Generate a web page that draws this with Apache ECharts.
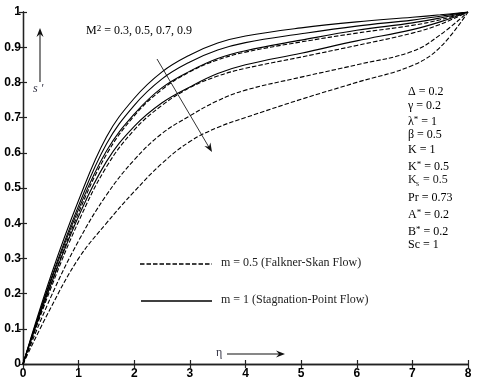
<!DOCTYPE html>
<html>
<head>
<meta charset="utf-8">
<script src="https://cdn.jsdelivr.net/npm/echarts@6/dist/echarts.min.js"></script>
<style>
  html, body { margin: 0; padding: 0; background: #fff; }
  #chart { width: 480px; height: 385px; }
</style>
</head>
<body>
<div id="chart"></div>
<script>
// eta grid shared by all curves
const eta = [0, 0.5, 1, 1.5, 2, 2.5, 3, 3.5, 4, 5, 6, 7, 7.5, 8]

// m = 1 (stagnation-point), M^2 = 0.3, 0.5, 0.7, 0.9
const solid03 = [0, 0.25, 0.465, 0.645, 0.755, 0.83, 0.878, 0.912, 0.932, 0.955, 0.972, 0.985, 0.992, 1]
const solid05 = [0, 0.24, 0.45, 0.625, 0.735, 0.81, 0.858, 0.892, 0.913, 0.938, 0.96, 0.977, 0.988, 1]
const solid07 = [0, 0.235, 0.44, 0.605, 0.71, 0.785, 0.832, 0.868, 0.89, 0.92, 0.948, 0.969, 0.983, 1]
const solid09 = [0, 0.225, 0.42, 0.575, 0.675, 0.742, 0.787, 0.825, 0.85, 0.883, 0.918, 0.95, 0.972, 1]

// m = 0.5 (Falkner-Skan), M^2 = 0.3, 0.5, 0.7, 0.9
const dash03 = [0, 0.225, 0.43, 0.595, 0.705, 0.78, 0.83, 0.864, 0.886, 0.915, 0.94, 0.962, 0.978, 1]
const dash05 = [0, 0.215, 0.405, 0.56, 0.665, 0.735, 0.785, 0.818, 0.84, 0.872, 0.905, 0.94, 0.965, 1]
const dash07 = [0, 0.19, 0.35, 0.48, 0.58, 0.655, 0.705, 0.748, 0.778, 0.815, 0.85, 0.888, 0.935, 1]
const dash09 = [0, 0.16, 0.30, 0.40, 0.49, 0.57, 0.632, 0.672, 0.70, 0.752, 0.80, 0.848, 0.90, 1]

const xTicks = ['0', '1', '2', '3', '4', '5', '6', '7', '8']
const yTicks = ['0', '0.1', '0.2', '0.3', '0.4', '0.5', '0.6', '0.7', '0.8', '0.9', '1']

// parameter list ({sup|..} = superscript, "K_s" drawn separately)
const params = [
  '{n|\u0394 = 0.2}',
  '{n|\u03b3 = 0.2}',
  '{n|\u03bb}{sup|*}{n| = 1}',
  '{n|\u03b2 = 0.5}',
  '{n|K = 1}',
  '{n|K}{sup|*}{n| = 0.5}',
  null,
  '{n|Pr = 0.73}',
  '{n|A}{sup|*}{n| = 0.2}',
  '{n|B}{sup|*}{n| = 0.2}',
  '{n|Sc = 1}'
]
const paramY = [93, 107, 122, 136, 151, 167, 181, 199, 215, 232, 246]

const DASH = [4.5, 2]
const serif = 'Liberation Serif'
const rich = {
  n: { fontFamily: serif, fontSize: 12, color: '#222' },
  sup: { fontFamily: serif, fontSize: 9, color: '#222', verticalAlign: 'top', padding: [0, 0, 5, 0] }
}

function pairs(ys) {
  return eta.map((x, i) => [x, ys[i]])
}

function curve(ys, dashed) {
  return {
    type: 'line',
    data: pairs(ys),
    symbol: 'none',
    smooth: 0.4,
    silent: true,
    lineStyle: { color: '#000', width: 1.1, type: dashed ? DASH : 'solid' }
  }
}

function arrowHead(tx, ty, dx, dy) {
  const len = Math.hypot(dx, dy)
  const ux = dx / len, uy = dy / len
  const nx = -uy, ny = ux
  return {
    type: 'polygon',
    silent: true,
    shape: {
      points: [
        [tx, ty],
        [tx - 9 * ux + 3.5 * nx, ty - 9 * uy + 3.5 * ny],
        [tx - 6 * ux, ty - 6 * uy],
        [tx - 9 * ux - 3.5 * nx, ty - 9 * uy - 3.5 * ny]
      ]
    },
    style: { fill: '#111' }
  }
}

function plainText(x, y, str, size) {
  return {
    type: 'text', left: x, top: y, silent: true,
    style: { text: str, fontFamily: serif, fontSize: size || 12, fill: '#222' }
  }
}

const chart = echarts.init(document.getElementById('chart'))

const axisLine = { show: true, lineStyle: { color: '#222', width: 1.3 } }
const axisTick = { show: true, inside: true, length: 4, lineStyle: { color: '#222', width: 1.2 } }
const tickFont = { fontFamily: 'Liberation Sans', fontWeight: 'bold', fontSize: 12, color: '#000' }

const paramGraphics = []
params.forEach((t, i) => {
  if (t) {
    paramGraphics.push({ type: 'text', left: 408, top: paramY[i] - 7, silent: true, style: { text: t, rich } })
  }
})
// K_s = 0.5
paramGraphics.push(plainText(408, paramY[6] - 7, 'K'))
paramGraphics.push(plainText(416, paramY[6] - 1, 's', 8))
paramGraphics.push(plainText(420, paramY[6] - 7, ' = 0.5'))

const option = {
  animation: false,
  backgroundColor: '#fff',
  grid: { left: 23, right: 12, top: 12, bottom: 21 },
  xAxis: [
    {
      type: 'value', min: 0, max: 8, interval: 1,
      axisLine, axisTick, splitLine: { show: false },
      axisLabel: Object.assign({ margin: 4, formatter: v => xTicks[Math.round(v)] }, tickFont)
    },
    {
      type: 'value', position: 'top', min: 0, max: 8, interval: 1,
      axisLine, axisTick, splitLine: { show: false }, axisLabel: { show: false }
    }
  ],
  yAxis: [
    {
      type: 'value', min: 0, max: 1, interval: 0.1,
      axisLine, axisTick, splitLine: { show: false },
      axisLabel: Object.assign({ margin: 2, formatter: v => yTicks[Math.round(v * 10)] }, tickFont)
    },
    {
      type: 'value', position: 'right', min: 0, max: 1, interval: 0.1,
      axisLine, axisTick, splitLine: { show: false }, axisLabel: { show: false }
    }
  ],
  series: [
    curve(solid03, false), curve(solid05, false), curve(solid07, false), curve(solid09, false),
    curve(dash03, true), curve(dash05, true), curve(dash07, true), curve(dash09, true)
  ],
  graphic: [
    // M^2 label and arrow
    {
      type: 'text', left: 86, top: 24, silent: true,
      style: { text: '{n|M}{sup|2}{n| = 0.3, 0.5, 0.7, 0.9}', rich }
    },
    { type: 'line', silent: true, shape: { x1: 157, y1: 59, x2: 210, y2: 149 }, style: { stroke: '#333', lineWidth: 1 } },
    arrowHead(212, 152, 55, 93),
    // s' arrow
    { type: 'line', silent: true, shape: { x1: 40, y1: 82, x2: 40, y2: 34 }, style: { stroke: '#333', lineWidth: 1.2 } },
    arrowHead(40, 28, 0, -1),
    {
      type: 'text', left: 33, top: 83, silent: true,
      style: { text: 's \u2032', fontFamily: serif, fontStyle: 'italic', fontSize: 12, fill: '#334' }
    },
    // eta arrow
    {
      type: 'text', left: 216, top: 347, silent: true,
      style: { text: '\u03b7', fontFamily: serif, fontSize: 12, fill: '#334' }
    },
    { type: 'line', silent: true, shape: { x1: 227, y1: 354, x2: 280, y2: 354 }, style: { stroke: '#111', lineWidth: 1.2 } },
    arrowHead(285, 354, 1, 0),
    // legend
    { type: 'line', silent: true, shape: { x1: 140, y1: 264, x2: 212, y2: 264 }, style: { stroke: '#000', lineWidth: 1.3, lineDash: DASH } },
    plainText(221, 257, 'm = 0.5 (Falkner-Skan Flow)'),
    { type: 'line', silent: true, shape: { x1: 141, y1: 301, x2: 212, y2: 301 }, style: { stroke: '#000', lineWidth: 1.4 } },
    plainText(221, 294, 'm = 1 (Stagnation-Point Flow)')
  ].concat(paramGraphics)
}

chart.setOption(option)
</script>
</body>
</html>
